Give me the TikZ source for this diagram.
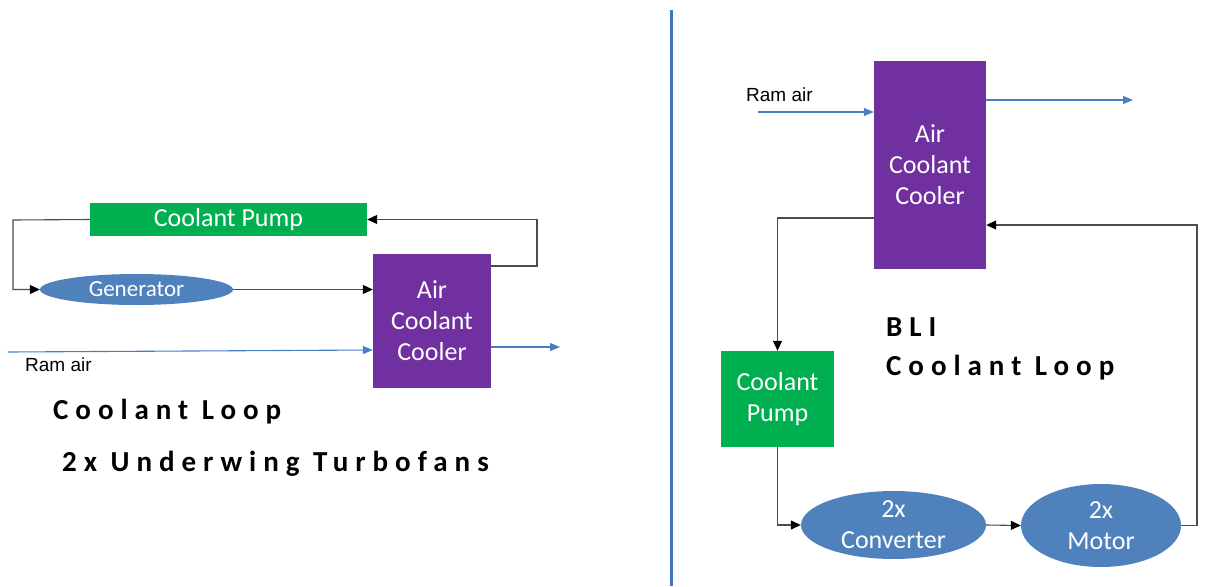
\documentclass[tikz,border=0pt]{standalone}
\usepackage{fontspec}
\setmainfont{Carlito}
\newfontfamily\ramfont{Liberation Sans}
\newfontfamily\titlefont[LetterSpace=24]{Carlito}
\usetikzlibrary{arrows.meta,shapes.geometric}
\definecolor{pumpgreen}{HTML}{00B050}
\definecolor{coolpurple}{HTML}{7030A0}
\definecolor{unitblue}{HTML}{4F81BD}
\definecolor{airblue}{HTML}{4A7EC4}
\definecolor{splitblue}{HTML}{4472C4}
\begin{document}
\begin{tikzpicture}[x=1pt,y=-1pt,
  boxtxt/.style={text=white,align=center,inner sep=0pt,font={\fontsize{26}{31}\selectfont}},
  pumpbox/.style={boxtxt,fill=pumpgreen},
  coolbox/.style={boxtxt,fill=coolpurple},
  unit/.style={boxtxt,ellipse,fill=unitblue},
  loop/.style={draw=black!70,line width=1.1pt,-{Triangle[length=10pt,width=9pt,color=black]}},
  air/.style={draw=airblue,line width=1.1pt,-{Triangle[length=10pt,width=8pt]}},
  heading/.style={anchor=west,inner sep=0pt,font={\titlefont\bfseries\fontsize{29}{34}\selectfont}}]
\useasboundingbox (0,0) rectangle (1214,586);
% Underwing turbofan loop
\node[pumpbox,minimum width=277pt,minimum height=33pt] (lpump) at (228.5,219.5) {Coolant Pump};
\node[unit,minimum width=193pt,minimum height=31pt,font={\fontsize{23}{27}\selectfont}] (lgen) at (136.5,289.5) {Generator};
\node[coolbox,minimum width=118pt,minimum height=134pt] (lcool) at (432,321) {Air\\Coolant\\Cooler};
\draw[loop] (lpump.west) -- (13,220) |- (lgen.west);
\draw[loop] (lgen.east) -- (lcool.west |- lgen.east);
\draw[loop] (lcool.east |- 0,266) -- (537,266) |- (lpump.east);
\coordinate (lramin) at (8,352);
\coordinate (lairout) at (560,347);
\draw[air] (lramin) -- (lcool.west |- 0,350);
\draw[air] (lcool.east |- lairout) -- (lairout);
\node[font={\ramfont\fontsize{19}{21}\selectfont},anchor=west,inner sep=0pt] (lram) at (25,365) {Ram air};
\node[heading] (ltitle) at (53,412) {Coolant Loop};
\node[heading] (lsub) at (62,464) {2x Underwing Turbofans};
% divider
\draw[splitblue,line width=3pt] (671,10) -- (671,586);
% BLI loop
\node[coolbox,minimum width=112pt,minimum height=208pt] (rcool) at (930,165) {Air\\Coolant\\Cooler};
\node[pumpbox,minimum width=113pt,minimum height=96pt] (rpump) at (777.5,399) {Coolant\\Pump};
\node[unit,minimum width=185pt,minimum height=66pt] (conv) at (893.5,525) {2x\\Converter};
\node[unit,minimum width=160pt,minimum height=83pt] (mot) at (1101,525.5) {2x\\Motor};
\draw[loop] (rcool.west |- 0,218) -| (rpump.north);
\draw[loop] (rpump.south) |- (conv.west);
\draw[loop] (conv.east) -- (mot.west);
\draw[loop] (mot.east) -- (1197,525.5) |- (rcool.east |- 0,225);
\coordinate (rramin) at (758,112);
\coordinate (rairout) at (1133,100);
\draw[air] (rramin) -- (rcool.west |- rramin);
\draw[air] (rcool.east |- rairout) -- (rairout);
\node[font={\ramfont\fontsize{19}{21}\selectfont},anchor=west,inner sep=0pt] (rram) at (746,95) {Ram air};
\node[heading] (rtitle) at (886,327) {BLI};
\node[heading] (rsub) at (886,368) {Coolant Loop};
\end{tikzpicture}
\end{document}
